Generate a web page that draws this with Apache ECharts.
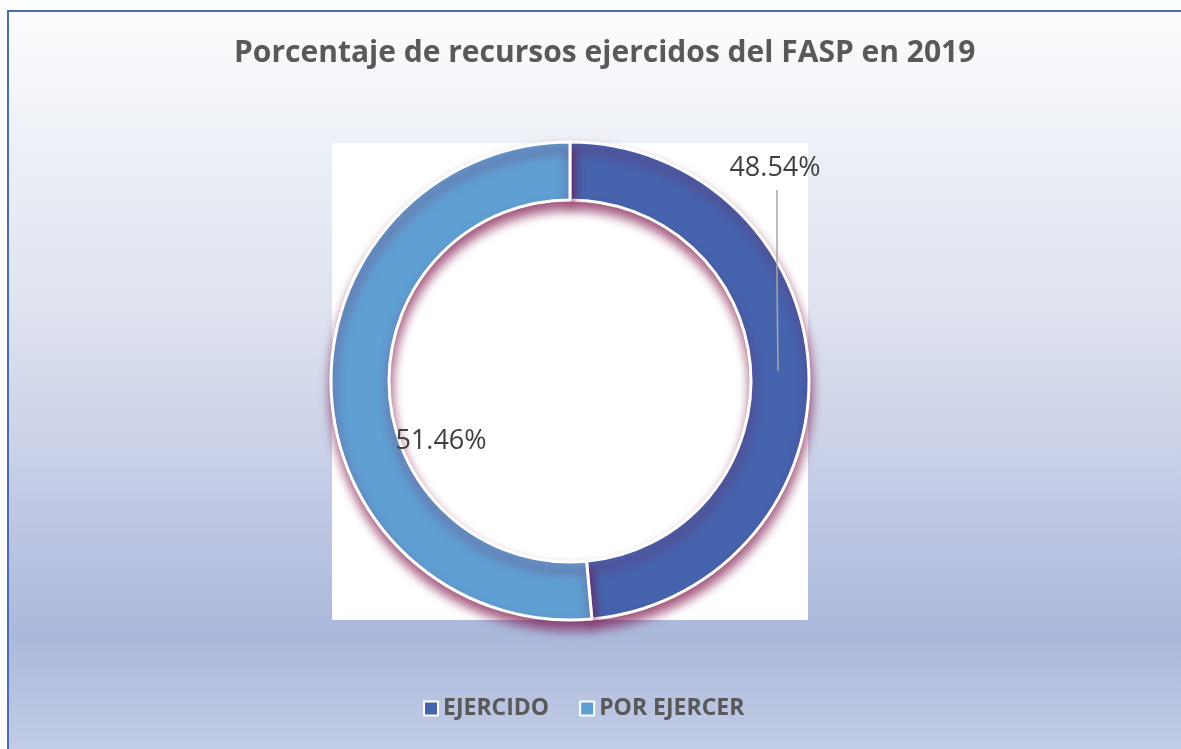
<!DOCTYPE html>
<html>
<head>
<meta charset="utf-8">
<title>Porcentaje de recursos ejercidos del FASP en 2019</title>
<script src="https://cdn.jsdelivr.net/npm/echarts@6/dist/echarts.min.js"></script>
<style>
  html, body { margin: 0; padding: 0; background: #fff; }
  #chartBox { width: 1181px; height: 749px; }
</style>
</head>
<body>
<div id="chartBox"></div>
<script>
// datos del gráfico
const categories = ['EJERCIDO', 'POR EJERCER'];
const values = [48.54, 51.46];
const sliceColors = ['#4664ae', '#609fd3'];

const chart = echarts.init(document.getElementById('chartBox'));

const pieCenter = [570, 381];
const pieRadius = [181, 239];

const option = {
  animation: false,
  // fondo degradado y marco
  graphic: [
    {
      type: 'rect',
      left: 7, top: 10, z: -10,
      shape: { width: 1176, height: 742 },
      style: {
        fill: new echarts.graphic.LinearGradient(0, 0, 0, 1, [
          { offset: 0, color: '#fdfdfe' },
          { offset: 0.15, color: '#eff2f8' },
          { offset: 0.4, color: '#dfe3f0' },
          { offset: 0.6, color: '#c9d0e8' },
          { offset: 0.84, color: '#aab8db' },
          { offset: 1, color: '#c3cde6' }
        ]),
        stroke: '#4a6cb5',
        lineWidth: 2
      }
    },
    {
      // área de trazado blanca
      type: 'rect',
      left: 332, top: 143, z: -5,
      shape: { width: 476, height: 477 },
      style: { fill: '#ffffff' }
    }
  ],
  title: {
    text: 'Porcentaje de recursos ejercidos del FASP en 2019',
    left: 229,
    top: 33,
    textStyle: {
      fontFamily: 'Open Sans',
      fontWeight: 'bold',
      fontSize: 30,
      color: '#595959'
    }
  },
  legend: {
    data: categories,
    left: 418,
    top: 692,
    itemGap: 30,
    itemWidth: 14,
    itemHeight: 14,
    icon: 'rect',
    itemStyle: { borderColor: '#ffffff', borderWidth: 2 },
    textStyle: {
      fontFamily: 'Open Sans',
      fontWeight: 'bold',
      fontSize: 23,
      color: '#595959'
    }
  },
  color: sliceColors,
  series: [
    {
      // anillo con sombra
      type: 'pie',
      z: 2,
      center: pieCenter,
      radius: pieRadius,
      startAngle: 90,
      itemStyle: {
        borderColor: '#ffffff',
        borderWidth: 3,
        shadowBlur: 11,
        shadowColor: 'rgba(120, 10, 65, 0.7)',
        shadowOffsetX: 1,
        shadowOffsetY: 8
      },
      label: { show: false },
      labelLine: { show: false },
      emphasis: { disabled: true },
      data: categories.map((c, i) => ({ name: c, value: values[i] }))
    },
    {
      // capa transparente encima, solo para etiquetas y línea guía
      type: 'pie',
      z: 3,
      center: pieCenter,
      radius: pieRadius,
      startAngle: 90,
      avoidLabelOverlap: false,
      silent: true,
      legendHoverLink: false,
      itemStyle: { color: 'rgba(0,0,0,0)' },
      label: {
        show: true,
        position: 'outside',
        formatter: p => p.value.toFixed(2) + '%',
        fontFamily: 'Open Sans',
        fontSize: 27,
        color: '#404040'
      },
      labelLine: {
        show: true,
        lineStyle: { color: '#a6a6a6', width: 1.5 }
      },
      labelLayout: function (params) {
        if (params.dataIndex === 0) {
          return {
            x: 775, y: 168, align: 'center', verticalAlign: 'middle',
            labelLinePoints: [[778, 371], [777, 280], [777, 190]]
          };
        }
        return { x: 441, y: 441, align: 'center', verticalAlign: 'middle' };
      },
      emphasis: { disabled: true },
      data: categories.map((c, i) => ({
        name: c,
        value: values[i],
        labelLine: { show: i === 0 }
      }))
    }
  ]
};

chart.setOption(option);
</script>
</body>
</html>
